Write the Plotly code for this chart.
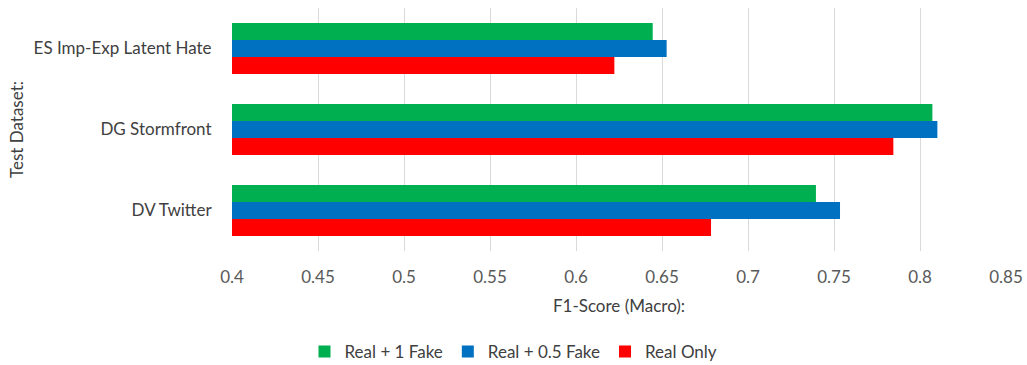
import plotly.graph_objects as go

categories = ["DV Twitter", "DG Stormfront", "ES Imp-Exp Latent Hate"]
real_only = [0.6785, 0.7845, 0.6223]
real_half_fake = [0.7535, 0.8101, 0.6527]
real_one_fake = [0.7395, 0.8072, 0.6446]
x_ticks = [0.4, 0.45, 0.5, 0.55, 0.6, 0.65, 0.7, 0.75, 0.8, 0.85]
x_tick_labels = ["0.4", "0.45", "0.5", "0.55", "0.6", "0.65", "0.7", "0.75", "0.8", "0.85"]

FONT = "Lato, Carlito, Calibri, sans-serif"
FS = 17

fig = go.Figure()
fig.add_trace(go.Bar(y=categories, x=real_only, name="Real Only", orientation="h",
                     marker=dict(color="#FF0000", line=dict(width=0))))
fig.add_trace(go.Bar(y=categories, x=real_half_fake, name="Real + 0.5 Fake", orientation="h",
                     marker=dict(color="#0070C0", line=dict(width=0))))
fig.add_trace(go.Bar(y=categories, x=real_one_fake, name="Real + 1 Fake", orientation="h",
                     marker=dict(color="#00B050", line=dict(width=0))))

fig.update_layout(
    width=1027, height=365,
    margin=dict(l=232, r=21, t=8, b=114, autoexpand=False),
    paper_bgcolor="white", plot_bgcolor="white",
    barmode="group", bargap=0.37, bargroupgap=0,
    font=dict(family=FONT, size=FS, color="#404040"),
    showlegend=True,
    legend=dict(orientation="h", x=0.5, xanchor="center", xref="container",
                y=0.036, yanchor="middle", yref="container",
                traceorder="reversed", font=dict(size=FS, color="#404040"),
                itemwidth=30, tracegroupgap=0),
    xaxis=dict(range=[0.4, 0.85], tickvals=x_ticks, ticktext=x_tick_labels,
               showgrid=True, gridcolor="#D9D9D9", gridwidth=1, zeroline=False,
               showline=False, ticks="outside", ticklen=11, tickcolor="rgba(0,0,0,0)",
               tickfont=dict(size=FS, color="#595959"),
               title=dict(text="F1-Score (Macro):", font=dict(size=FS, color="#404040"), standoff=13),
               automargin=False),
    yaxis=dict(showgrid=False, zeroline=False, showline=False,
               ticks="outside", ticklen=16, tickcolor="rgba(0,0,0,0)",
               tickfont=dict(size=FS, color="#404040"),
               title=dict(text="Test Dataset:", font=dict(size=FS, color="#404040"), standoff=5),
               automargin=False),
)

fig.write_html("out.html")
